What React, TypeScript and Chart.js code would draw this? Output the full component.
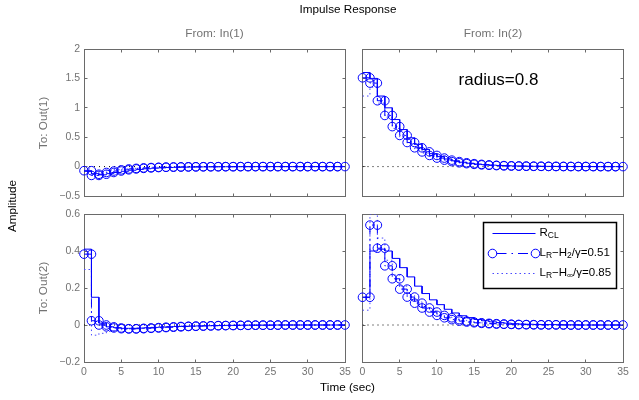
import React, { useEffect, useRef } from "react";
import { Chart, registerables } from "chart.js";

Chart.register(...registerables);

// ---------- data (impulse response samples, Ts = 1 s, k = 0..34) ----------
const timeRange = [0, 35];
const timeTickStep = 5;

const out1TickRange = [-0.5, 2];
const out1TickStep = 0.5;
const out2TickRange = [-0.2, 0.6];
const out2TickStep = 0.2;

// In(1) -> Out(1)
const in1Out1Rcl = [-0.08, -0.12, -0.14, -0.12, -0.1, -0.08, -0.062, -0.048, -0.037, -0.028, -0.021, -0.016, -0.012, -0.009, -0.007, -0.005, -0.004, -0.003, -0.002, -0.002, -0.001, -0.001, -0.001, 0, 0, 0, 0, 0, 0, 0, 0, 0, 0, 0, 0];
const in1Out1H2 = [-0.07, -0.15, -0.13, -0.1, -0.075, -0.055, -0.04, -0.03, -0.022, -0.016, -0.012, -0.009, -0.007, -0.005, -0.004, -0.003, -0.002, -0.002, -0.001, -0.001, -0.001, 0, 0, 0, 0, 0, 0, 0, 0, 0, 0, 0, 0, 0, 0];
const in1Out1Hinf = [-0.04, -0.1, -0.09, -0.07, -0.052, -0.039, -0.029, -0.021, -0.016, -0.012, -0.009, -0.007, -0.005, -0.004, -0.003, -0.002, -0.002, -0.001, -0.001, -0.001, 0, 0, 0, 0, 0, 0, 0, 0, 0, 0, 0, 0, 0, 0, 0];

// In(2) -> Out(1)
const in2Out1Rcl = [1.6, 1.5, 1.2, 1.0, 0.8, 0.63, 0.49, 0.38, 0.29, 0.22, 0.17, 0.13, 0.1, 0.075, 0.057, 0.043, 0.033, 0.025, 0.019, 0.014, 0.011, 0.008, 0.006, 0.005, 0.004, 0.003, 0.002, 0.002, 0.001, 0.001, 0.001, 0, 0, 0, 0];
const in2Out1H2 = [1.51, 1.42, 1.12, 0.87, 0.68, 0.53, 0.41, 0.32, 0.25, 0.19, 0.145, 0.11, 0.085, 0.065, 0.05, 0.038, 0.029, 0.022, 0.017, 0.013, 0.01, 0.008, 0.006, 0.005, 0.004, 0.003, 0.002, 0.002, 0.001, 0.001, 0.001, 0.001, 0, 0, 0];
const in2Out1Hinf = [1.2, 1.35, 1.08, 0.84, 0.65, 0.5, 0.39, 0.3, 0.23, 0.175, 0.135, 0.1, 0.078, 0.06, 0.045, 0.035, 0.027, 0.02, 0.015, 0.012, 0.009, 0.007, 0.005, 0.004, 0.003, 0.002, 0.002, 0.001, 0.001, 0.001, 0, 0, 0, 0, 0];

// In(1) -> Out(2)
const in1Out2Rcl = [0.41, 0.15, 0.01, -0.01, -0.015, -0.018, -0.018, -0.017, -0.015, -0.013, -0.011, -0.01, -0.008, -0.007, -0.006, -0.005, -0.004, -0.003, -0.003, -0.002, -0.002, -0.001, -0.001, -0.001, -0.001, 0, 0, 0, 0, 0, 0, 0, 0, 0, 0];
const in1Out2H2 = [0.383, 0.023, 0.0, -0.01, -0.016, -0.02, -0.021, -0.02, -0.018, -0.016, -0.014, -0.012, -0.01, -0.008, -0.007, -0.006, -0.005, -0.004, -0.003, -0.003, -0.002, -0.002, -0.001, -0.001, -0.001, -0.001, 0, 0, 0, 0, 0, 0, 0, 0, 0];
const in1Out2Hinf = [0.3, -0.055, -0.045, -0.035, -0.03, -0.025, -0.021, -0.017, -0.014, -0.012, -0.01, -0.008, -0.007, -0.006, -0.005, -0.004, -0.003, -0.003, -0.002, -0.002, -0.001, -0.001, -0.001, 0, 0, 0, 0, 0, 0, 0, 0, 0, 0, 0, 0];

// In(2) -> Out(2)
const in2Out2Rcl = [0.15, 0.4, 0.41, 0.4, 0.36, 0.31, 0.26, 0.21, 0.17, 0.136, 0.11, 0.085, 0.065, 0.05, 0.04, 0.03, 0.023, 0.017, 0.013, 0.01, 0.007, 0.005, 0.004, 0.003, 0.002, 0.002, 0.001, 0.001, 0.001, 0, 0, 0, 0, 0, 0];
const in2Out2H2 = [0.15, 0.54, 0.415, 0.32, 0.25, 0.194, 0.151, 0.118, 0.092, 0.07, 0.052, 0.039, 0.029, 0.021, 0.016, 0.012, 0.009, 0.007, 0.005, 0.004, 0.003, 0.002, 0.002, 0.001, 0.001, 0.001, 0.001, 0, 0, 0, 0, 0, 0, 0, 0];
const in2Out2Hinf = [0.08, 0.6, 0.47, 0.35, 0.27, 0.21, 0.16, 0.125, 0.097, 0.075, 0.057, 0.043, 0.033, 0.025, 0.019, 0.014, 0.011, 0.008, 0.006, 0.005, 0.004, 0.003, 0.002, 0.002, 0.001, 0.001, 0.001, 0, 0, 0, 0, 0, 0, 0, 0];

// legend labels: [text, isSubscript]
const legendRcl: [string, boolean][] = [["R", false], ["CL", true]];
const legendH2: [string, boolean][] = [["L", false], ["R", true], ["\u2212H", false], ["2", true], ["/\u03b3=0.51", false]];
const legendHinf: [string, boolean][] = [["L", false], ["R", true], ["\u2212H", false], ["\u221e", true], ["/\u03b3=0.85", false]];

// ---------- styling ----------
const W = 639;
const H = 400;
const FONT = '"Liberation Sans", Arial, Helvetica, sans-serif';
const BLUE = "#0000ff";
const LIGHT_BLUE = "#4a4aff";
const GRAY_TEXT = "#737373";
const GRAY_BOX = "#6a6a6a";
const YW = 40;
const XH = 22;
const TICK_LEN = 3;
const MARKER_R = 4.3;

const DASH_DOT = [8, 4, 1.5, 4];
const DOTTED = [1.5, 3];
const ZERO_DOT = [1, 4];

type Box = { l: number; t: number; r: number; b: number };
type Panel = {
  box: Box;
  yRange: number[];
  yStep: number;
  showX: boolean;
  showY: boolean;
  rcl: number[];
  h2: number[];
  hinf: number[];
  legend: boolean;
};

const panels: Panel[] = [
  { box: { l: 84, t: 49, r: 345, b: 196 }, yRange: out1TickRange, yStep: out1TickStep, showX: false, showY: true, rcl: in1Out1Rcl, h2: in1Out1H2, hinf: in1Out1Hinf, legend: false },
  { box: { l: 362.5, t: 49, r: 623, b: 196 }, yRange: out1TickRange, yStep: out1TickStep, showX: false, showY: false, rcl: in2Out1Rcl, h2: in2Out1H2, hinf: in2Out1Hinf, legend: false },
  { box: { l: 84, t: 214, r: 345, b: 362 }, yRange: out2TickRange, yStep: out2TickStep, showX: true, showY: true, rcl: in1Out2Rcl, h2: in1Out2H2, hinf: in1Out2Hinf, legend: false },
  { box: { l: 362.5, t: 214, r: 623, b: 362 }, yRange: out2TickRange, yStep: out2TickStep, showX: true, showY: false, rcl: in2Out2Rcl, h2: in2Out2H2, hinf: in2Out2Hinf, legend: true },
];

function stairs(vals: number[]) {
  const pts: { x: number; y: number }[] = [];
  vals.forEach((v, k) => {
    pts.push({ x: k, y: v });
    pts.push({ x: k + 1, y: v });
  });
  return pts;
}

function fmt(v: number) {
  const n = Math.round(v * 10) / 10;
  if (n === 0) return "0";
  return n < 0 ? "\u2212" + String(-n) : String(n);
}

const boxPlugin = {
  id: "matlabBox",
  beforeDatasetsDraw(chart: any) {
    const { ctx, chartArea: a, scales } = chart;
    const xs = scales.x;
    const ys = scales.y;
    const L = Math.floor(a.left) + 0.5;
    const R = Math.floor(a.right) + 0.5;
    const T = Math.floor(a.top) + 0.5;
    const B = Math.floor(a.bottom) + 0.5;
    ctx.save();
    ctx.strokeStyle = GRAY_BOX;
    ctx.lineWidth = 1;
    ctx.setLineDash([]);
    ctx.beginPath();
    xs.ticks.forEach((t: any) => {
      const px = Math.floor(xs.getPixelForValue(t.value)) + 0.5;
      ctx.moveTo(px, B);
      ctx.lineTo(px, B - TICK_LEN);
      ctx.moveTo(px, T);
      ctx.lineTo(px, T + TICK_LEN);
    });
    ys.ticks.forEach((t: any) => {
      const py = Math.floor(ys.getPixelForValue(t.value)) + 0.5;
      ctx.moveTo(L, py);
      ctx.lineTo(L + TICK_LEN, py);
      ctx.moveTo(R, py);
      ctx.lineTo(R - TICK_LEN, py);
    });
    ctx.stroke();
    ctx.strokeRect(L, T, R - L, B - T);
    ctx.restore();
  },
};

function drawRich(ctx: CanvasRenderingContext2D, parts: [string, boolean][], x: number, y: number) {
  let cx = x;
  parts.forEach(([txt, sub]) => {
    ctx.font = sub ? `8.5px ${FONT}` : `11.5px ${FONT}`;
    ctx.fillText(txt, cx, sub ? y + 3.5 : y);
    cx += ctx.measureText(txt).width;
  });
}

const legendPlugin = {
  id: "stairLegend",
  afterDraw(chart: any) {
    const { ctx, chartArea: a } = chart;
    const w = 133;
    const h = 66;
    const left = Math.round(a.right - 7 - w) + 0.5;
    const top = Math.round(a.top + 7.5) + 0.5;
    ctx.save();
    ctx.fillStyle = "#ffffff";
    ctx.fillRect(left, top, w, h);
    ctx.strokeStyle = "#000000";
    ctx.lineWidth = 1.5;
    ctx.strokeRect(left, top, w, h);
    const x0 = left + 9;
    const x1 = left + 52;
    const rows = [top + 11, top + 31, top + 51];
    ctx.strokeStyle = BLUE;
    ctx.lineWidth = 1;
    // R_CL
    ctx.setLineDash([]);
    ctx.beginPath();
    ctx.moveTo(x0, rows[0]);
    ctx.lineTo(x1, rows[0]);
    ctx.stroke();
    // H2 with circles
    ctx.setLineDash([10, 5, 1.5, 5]);
    ctx.beginPath();
    ctx.moveTo(x0 + 4, rows[1]);
    ctx.lineTo(x1 - 4, rows[1]);
    ctx.stroke();
    ctx.setLineDash([]);
    [x0, x1].forEach((cx) => {
      ctx.beginPath();
      ctx.arc(cx, rows[1], MARKER_R, 0, Math.PI * 2);
      ctx.stroke();
    });
    // Hinf dotted
    ctx.strokeStyle = LIGHT_BLUE;
    ctx.setLineDash(DOTTED);
    ctx.beginPath();
    ctx.moveTo(x0, rows[2]);
    ctx.lineTo(x1, rows[2]);
    ctx.stroke();
    ctx.setLineDash([]);
    ctx.fillStyle = "#000000";
    ctx.textBaseline = "middle";
    ctx.textAlign = "left";
    const tx = left + 56;
    drawRich(ctx, legendRcl, tx, rows[0] - 1);
    drawRich(ctx, legendH2, tx, rows[1] - 1);
    drawRich(ctx, legendHinf, tx, rows[2] - 1);
    ctx.restore();
  },
};

function makeChart(canvas: HTMLCanvasElement, p: Panel) {
  const { box } = p;
  return new Chart(canvas, {
    type: "line",
    data: {
      datasets: [
        {
          label: "zero",
          data: [{ x: timeRange[0], y: 0 }, { x: timeRange[1], y: 0 }],
          borderColor: "#000000",
          borderWidth: 1,
          borderDash: ZERO_DOT,
          pointRadius: 0,
          order: 4,
        },
        {
          label: "LR-Hinf",
          data: stairs(p.hinf),
          borderColor: LIGHT_BLUE,
          borderWidth: 1,
          borderDash: DOTTED,
          pointRadius: 0,
          order: 3,
        },
        {
          label: "RCL",
          data: stairs(p.rcl),
          borderColor: BLUE,
          borderWidth: 1,
          pointRadius: 0,
          order: 2,
        },
        {
          label: "LR-H2",
          data: stairs(p.h2),
          borderColor: BLUE,
          borderWidth: 1,
          borderDash: DASH_DOT,
          pointRadius: MARKER_R,
          pointStyle: "circle",
          pointBorderColor: BLUE,
          pointBackgroundColor: "rgba(0,0,0,0)",
          pointBorderWidth: 1,
          clip: false as any,
          order: 1,
        },
      ] as any,
    },
    options: {
      animation: false,
      responsive: false,
      maintainAspectRatio: false,
      events: [],
      layout: {
        padding: { left: box.l - YW, top: box.t, right: W - box.r, bottom: H - box.b - XH },
      },
      plugins: {
        legend: { display: false },
        tooltip: { enabled: false },
        title: { display: false },
      },
      scales: {
        x: {
          type: "linear",
          min: timeRange[0],
          max: timeRange[1],
          ticks: {
            stepSize: timeTickStep,
            display: p.showX,
            color: GRAY_TEXT,
            font: { family: FONT, size: 10.5 },
            padding: 4,
            maxRotation: 0,
            autoSkip: false,
            callback: (v: any) => fmt(Number(v)),
          },
          grid: { display: false, drawTicks: false },
          border: { display: false },
          afterFit: (s: any) => {
            s.height = XH;
          },
        },
        y: {
          type: "linear",
          min: p.yRange[0],
          max: p.yRange[1],
          ticks: {
            stepSize: p.yStep,
            display: p.showY,
            color: GRAY_TEXT,
            font: { family: FONT, size: 10.5 },
            padding: 4,
            autoSkip: false,
            callback: (v: any) => fmt(Number(v)),
          },
          grid: { display: false, drawTicks: false },
          border: { display: false },
          afterFit: (s: any) => {
            s.width = YW;
          },
        },
      },
    } as any,
    plugins: p.legend ? [boxPlugin, legendPlugin] : [boxPlugin],
  });
}

type Label = { text: string; cx: number; cy: number; size: number; color: string; rot?: number };

const labels: Label[] = [
  { text: "Impulse Response", cx: 348, cy: 9, size: 11.7, color: "#000000" },
  { text: "From: In(1)", cx: 214.5, cy: 34, size: 11.8, color: GRAY_TEXT },
  { text: "From: In(2)", cx: 493, cy: 34, size: 11.8, color: GRAY_TEXT },
  { text: "To: Out(1)", cx: 44, cy: 122.5, size: 11.8, color: GRAY_TEXT, rot: -90 },
  { text: "To: Out(2)", cx: 44, cy: 288, size: 11.8, color: GRAY_TEXT, rot: -90 },
  { text: "Amplitude", cx: 12, cy: 206, size: 11.7, color: "#000000", rot: -90 },
  { text: "Time (sec)", cx: 347.5, cy: 387, size: 11.7, color: "#000000" },
  { text: "radius=0.8", cx: 498.5, cy: 79, size: 17, color: "#000000" },
];

export default function App() {
  const refs = useRef<(HTMLCanvasElement | null)[]>([]);
  useEffect(() => {
    const charts = panels.map((p, i) => makeChart(refs.current[i] as HTMLCanvasElement, p));
    return () => charts.forEach((c) => c.destroy());
  }, []);
  return (
    <div style={{ position: "absolute", left: 0, top: 0, width: W, height: H, background: "#ffffff", fontFamily: FONT, overflow: "hidden" }}>
      {panels.map((_, i) => (
        <canvas
          key={i}
          ref={(el) => {
            refs.current[i] = el;
          }}
          width={W}
          height={H}
          style={{ position: "absolute", left: 0, top: 0, width: W, height: H, pointerEvents: "none" }}
        />
      ))}
      {labels.map((lb, i) => (
        <div
          key={"l" + i}
          style={{
            position: "absolute",
            left: lb.cx,
            top: lb.cy,
            transform: `translate(-50%, -50%) rotate(${lb.rot || 0}deg)`,
            whiteSpace: "nowrap",
            fontSize: lb.size,
            lineHeight: 1,
            color: lb.color,
          }}
        >
          {lb.text}
        </div>
      ))}
    </div>
  );
}
